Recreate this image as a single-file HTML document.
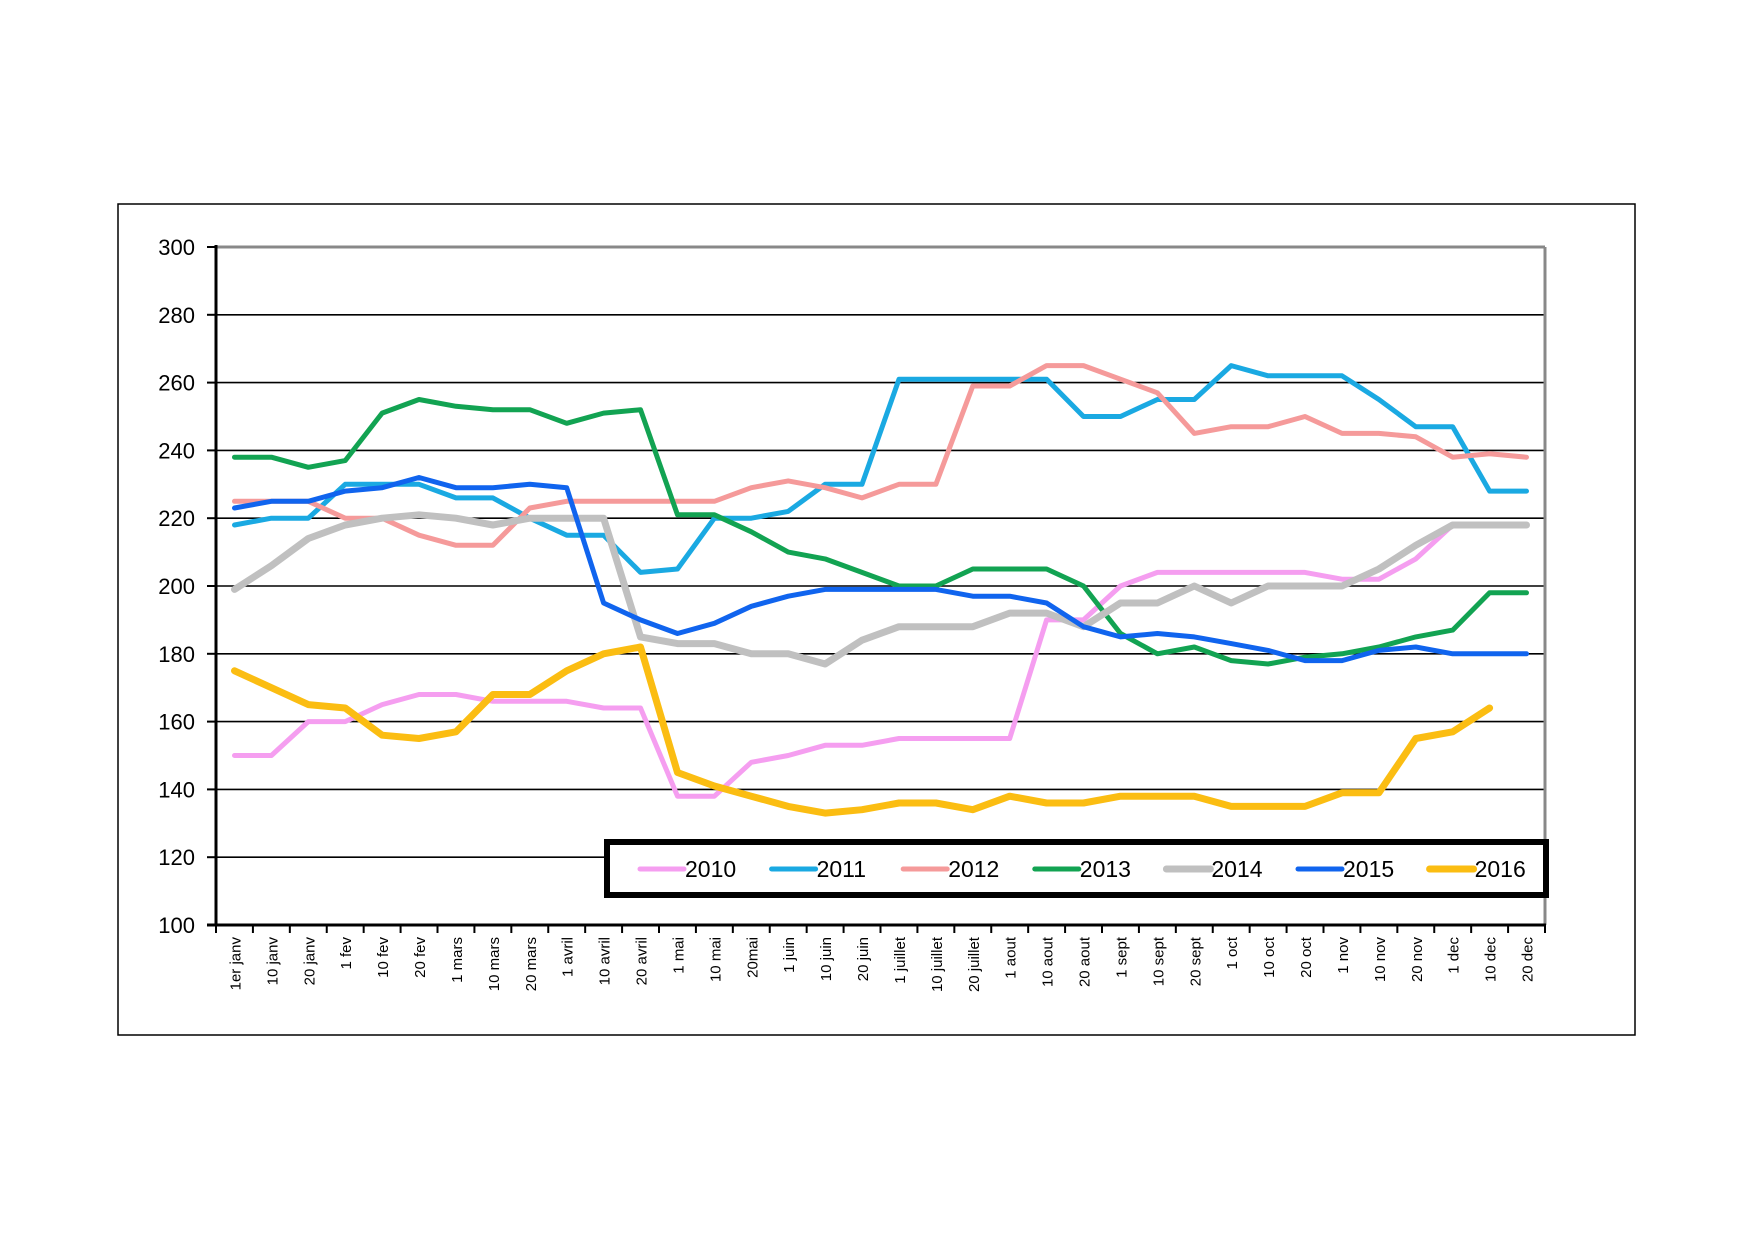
<!DOCTYPE html>
<html><head><meta charset="utf-8"><style>
html,body{margin:0;padding:0;background:#fff;}
svg{display:block;font-family:"Liberation Sans",Arial,sans-serif;}
</style></head><body>
<svg id="chart" width="1754" height="1240" viewBox="0 0 1754 1240">
<rect x="118" y="204" width="1517" height="831" fill="#fff" stroke="#000" stroke-width="1.5"/>
<g id="grid"></g>
<g id="series"></g>
<g id="axes"></g>
<g id="legend"></g>
</svg>
<script>
const categories = ["1er janv","10 janv","20 janv","1 fev","10 fev","20 fev","1 mars","10 mars","20 mars","1 avril","10 avril","20 avril","1 mai","10 mai","20mai","1 juin","10 juin","20 juin","1 juillet","10 juillet","20 juillet","1 aout","10 aout","20 aout","1 sept","10 sept","20 sept","1 oct","10 oct","20 oct","1 nov","10 nov","20 nov","1 dec","10 dec","20 dec"];
const yTicks = [100,120,140,160,180,200,220,240,260,280,300];
const seriesNames = ["2010","2011","2012","2013","2014","2015","2016"];
const s2010 = [150,150,160,160,165,168,168,166,166,166,164,164,138,138,148,150,153,153,155,155,155,155,190,190,200,204,204,204,204,204,202,202,208,218,218,218];
const s2011 = [218,220,220,230,230,230,226,226,220,215,215,204,205,220,220,222,230,230,261,261,261,261,261,250,250,255,255,265,262,262,262,255,247,247,228,228];
const s2012 = [225,225,225,220,220,215,212,212,223,225,225,225,225,225,229,231,229,226,230,230,259,259,265,265,261,257,245,247,247,250,245,245,244,238,239,238];
const s2013 = [238,238,235,237,251,255,253,252,252,248,251,252,221,221,216,210,208,204,200,200,205,205,205,200,186,180,182,178,177,179,180,182,185,187,198,198];
const s2014 = [199,206,214,218,220,221,220,218,220,220,220,185,183,183,180,180,177,184,188,188,188,192,192,188,195,195,200,195,200,200,200,205,212,218,218,218];
const s2015 = [223,225,225,228,229,232,229,229,230,229,195,190,186,189,194,197,199,199,199,199,197,197,195,188,185,186,185,183,181,178,178,181,182,180,180,180];
const s2016 = [175,170,165,164,156,155,157,168,168,175,180,182,145,141,138,135,133,134,136,136,134,138,136,136,138,138,138,135,135,135,139,139,155,157,164];

const NS="http://www.w3.org/2000/svg";
const PL=216,PR=1545,PT=247,PB=925,YMIN=100,YMAX=300;
const step=(PR-PL)/categories.length;
const xs=i=>PL+step*(i+0.5);
const ys=v=>PB-(v-YMIN)/(YMAX-YMIN)*(PB-PT);
function mk(tag,attrs,parent){const e=document.createElementNS(NS,tag);for(const k in attrs)e.setAttribute(k,attrs[k]);parent.appendChild(e);return e;}
const gridG=document.getElementById('grid'),axesG=document.getElementById('axes'),serG=document.getElementById('series'),legG=document.getElementById('legend');

yTicks.forEach(t=>{
  if(t>YMIN&&t<YMAX){const g=mk('line',{x1:PL,x2:PR,y1:ys(t),y2:ys(t),stroke:'#000','stroke-width':1.6},gridG);
  
  }
  const tk=mk('line',{x1:PL-9,x2:PL,y1:ys(t),y2:ys(t),stroke:'#000','stroke-width':2},axesG);
  
  
  const lb=mk('text',{x:195,y:ys(t)+8,'text-anchor':'end','font-size':22,fill:'#000'},axesG);
  lb.textContent=t;
  
  
});
const topBorder=mk('line',{x1:PL,x2:PR,y1:PT,y2:PT,stroke:'#888','stroke-width':3},axesG);


const rightBorder=mk('line',{x1:PR,x2:PR,y1:PT,y2:PB,stroke:'#888','stroke-width':3},axesG);


const yAxisLine=mk('line',{x1:PL,x2:PL,y1:PT-2,y2:PB+1,stroke:'#000','stroke-width':3},axesG);


const xAxisLine=mk('line',{x1:PL-9,x2:PR+1,y1:PB,y2:PB,stroke:'#000','stroke-width':3},axesG);


for(let i=0;i<=categories.length;i++){
  const tk=mk('line',{x1:PL+step*i,x2:PL+step*i,y1:PB,y2:PB+8,stroke:'#000','stroke-width':2},axesG);
  
  
}
categories.forEach((c,i)=>{
  const tx=xs(i)+6,ty=PB+12;
  const lb=mk('text',{x:tx,y:ty,'text-anchor':'end','font-size':15,fill:'#000',transform:`rotate(-90 ${tx} ${ty})`},axesG);
  lb.textContent=c;
  
  
});

const colors=["#f59ef0","#1aa9e2","#f59a9a","#12a352","#c0c0c0","#1064ee","#fbbd12"];
const widths=[5,5,5,5,7,5,7];
const seriesData=[s2010,s2011,s2012,s2013,s2014,s2015,s2016];
seriesData.forEach((d,k)=>{
  const pts=d.map((v,i)=>xs(i).toFixed(1)+','+ys(v).toFixed(1)).join(' ');
  const p=mk('polyline',{points:pts,fill:'none',stroke:colors[k],'stroke-width':widths[k],'stroke-linejoin':'round','stroke-linecap':'round'},serG);
  
  
});

const lbox=mk('rect',{x:607,y:842,width:939,height:53,fill:'#fff',stroke:'#000','stroke-width':6},legG);


seriesNames.forEach((n,k)=>{
  const lx=640+k*131.6;
  const g=mk('g',{},legG);
  
  
  mk('line',{x1:lx,x2:lx+44,y1:869,y2:869,stroke:colors[k],'stroke-width':widths[k],'stroke-linecap':'round'},g);
  const t=mk('text',{x:lx+45,y:877,'font-size':23,fill:'#000'},g);
  t.textContent=n;
});
</script>
</body></html>
